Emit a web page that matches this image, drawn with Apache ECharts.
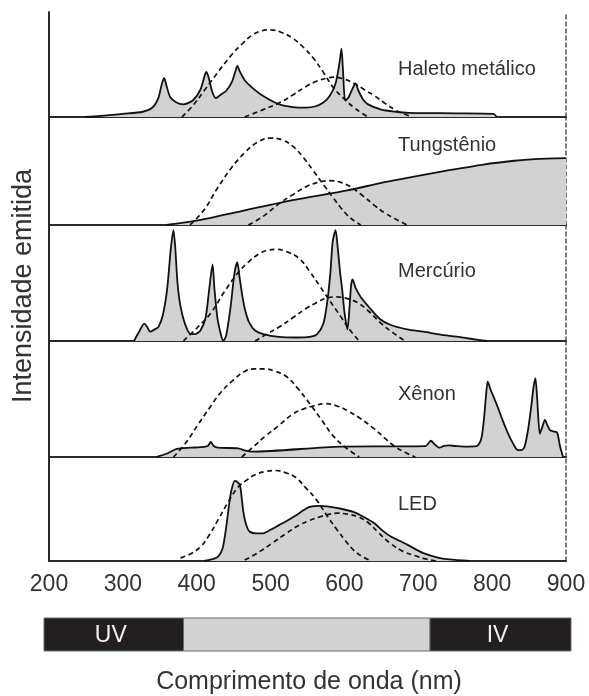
<!DOCTYPE html>
<html><head><meta charset="utf-8">
<script src="https://cdn.jsdelivr.net/npm/echarts@6/dist/echarts.min.js"></script>
<style>html,body{margin:0;padding:0;background:#fff}#c{width:589px;height:696px}</style>
</head><body><div id="c"></div>
<script>
// ---- data (wavelength nm, relative intensity %) ----
const xMin = 200, xMax = 900, xStep = 100;
const panelNames = ['Haleto metálico', 'Tungstênio', 'Mercúrio', 'Xênon', 'LED'];

const haletoSpectrum = [[248,0],[270,1],[300,3],[327,5],[340,9],[348,18],[353,32],[356,37],[359,30],[364,19],[372,14],[382,12],[395,16],[405,26],[411,40],[413,43],[416,38],[421,24],[426,18],[432,21],[440,25],[448,34],[453,45],[455,49],[458,44],[465,35],[475,28],[490,20],[512,12],[530,9.5],[548,9],[560,10],[571,13.5],[580,20],[588,32],[593,50],[596,65],[598,45],[601,16],[605,18],[611,27],[615,32],[619,25],[625,17],[632,12],[650,7],[670,5],[687,4],[750,3.5],[802,3],[806,0]];
const haletoDashA = [[380,0],[395,11],[410,25],[428,42],[447,59],[462,70],[475,78],[488,82],[500,83],[515,80.5],[530,75],[545,66],[558,56],[572,42],[585,28],[600,17],[613,9],[623,4],[632,0]];
const haletoDashB = [[465,0],[490,7],[512,13.5],[530,21],[548,29],[562,34],[576,37],[585,38],[600,36],[613,32],[627,26],[641,20],[655,13],[668,7],[680,3],[692,0]];

const tungstenioSpectrum = [[359,0],[400,4],[465,13.5],[530,23],[604,32],[650,39],[696,45],[740,50.5],[788,56],[830,59.5],[858,61],[900,62]];
const tungstenioDashA = [[391,0],[410,14],[428,34],[446,52],[465,67],[483,77],[500,80.5],[515,79],[530,73],[545,62],[558,50],[572,37],[585,25],[595,16],[604,9],[613,4],[622,0]];
const tungstenioDashB = [[470,0],[490,8],[512,20],[530,28],[548,35.5],[565,39.5],[581,41],[595,39.5],[608,35.5],[625,27],[641,18],[655,11],[668,6],[685,0]];

const mercurioSpectrum = [[315,0],[322,8],[329,15],[333,12],[337,8],[343,10],[348,12],[354,22],[360,45],[365,80],[368.5,95.6],[371,80],[374,50],[378,30],[384,15],[391.6,6],[398,6],[405,9],[412,20],[417,45],[421.5,66],[424,45],[428,20],[433,5],[436,0],[440,5],[446,30],[451,58],[455,68],[458,55],[462,38],[465.4,27],[471,16],[479,9],[490,6],[511.5,3.5],[535,3],[553,3.5],[563,6],[571.5,15],[577,35],[581,59],[584,85],[588,95.6],[591,80],[594,60],[597,44],[600,25],[604,10],[607,30],[609,48],[611,53],[615,46],[622,38],[635,28],[648,19],[662,14],[685,10],[707,8],[730,5.5],[752,3.7],[775,1.5],[793,0]];
const mercurioDashA = [[382,0],[400,11],[419,24],[437,42],[456,59],[470,68],[484,75],[495,78],[507,79],[522,77],[539,71],[553,60],[567,47],[581,34],[595,21],[608,9],[620,0]];
const mercurioDashB = [[479,0],[495,6],[511.5,12],[530,20],[548,28],[562,33],[576,37],[590,38],[604,36.5],[618,33],[634,25],[650,15],[666,7],[682,0]];

const xenonSpectrum = [[345,0],[360,3],[373,7],[391.6,8],[405,8.5],[415,9.5],[419,13],[423,9.5],[428.5,8],[456,7.5],[466,5.5],[476,4.6],[594.6,9],[660,9.2],[710,9.4],[714,12],[717,14],[722,11],[728.5,8],[735,9.5],[742,10],[750,9.5],[761,9],[779,9.4],[785,15],[788.5,30],[792,55],[794,65],[798,58],[807,44],[814,32],[821,21],[828,12],[834.6,6],[840,6],[844,9],[849,25],[853,44],[856,60],[858.6,68],[861,50],[864.6,20],[868,26],[871.5,32],[875,27],[878.5,23],[883,22],[888,21],[892,9],[896,0]];
const xenonDashA = [[368.5,0],[385,12],[400.8,27],[417,42],[433,56],[449,66],[465.4,74],[478,76],[491,76],[506,74],[521,69.6],[537,59],[553,46],[569,32],[585,18],[602,8],[620,0]];
const xenonDashB = [[461,0],[477,9],[493,18],[511,27],[530,37],[545,41.5],[558,44],[574,46],[590,44],[604,40],[622,33],[641,24],[655,16],[668.5,9],[682,4],[696,0]];

const ledSpectrum = [[410,0],[420,1.5],[428.5,4],[435,12],[440,33],[444,55],[447,68],[451.5,77],[455,76],[458.5,73],[461,60],[463,48],[465.4,39],[469,31],[472,28],[480,26.5],[488.5,26.5],[500,30],[511.5,34.5],[523,39],[534.6,44],[545,49],[553,52],[565,53],[581,52],[597,50],[613,47],[627,42],[641,36],[652,29],[664,23],[676,19],[687,15],[707,7.5],[725,3.5],[742,1.5],[770,0]];
const ledDashA = [[378,3],[392,7],[405,13.5],[417,25],[428.5,39],[442,56],[456,71],[468,78],[479,83],[493,86],[507,87],[520,85],[534.6,80],[548,70],[562,59],[576,44],[590,30],[602,19],[613,10],[625,4],[636,0]];
const ledDashB = [[465,1],[483,8],[502,17],[520,26],[539,34.5],[553,39],[567,42.5],[580,45],[590,46],[604,45],[618,42.5],[632,37],[645,28],[662,17],[680,9],[696,5],[710,2],[724,0]];

const bandStart = [193, 382, 716];
const bandEnd = [382, 716, 907];
const bandLabel = ['UV', '', 'IV'];

const xTitle = 'Comprimento de onda (nm)';
const yTitle = 'Intensidade emitida';

// ---- layout ----
const spectra = [haletoSpectrum, tungstenioSpectrum, mercurioSpectrum, xenonSpectrum, ledSpectrum];
const dashA = [haletoDashA, tungstenioDashA, mercurioDashA, xenonDashA, ledDashA];
const dashB = [haletoDashB, tungstenioDashB, mercurioDashB, xenonDashB, ledDashB];
const tops = [12, 117, 225, 341, 457];
const heights = [105, 108, 116, 116, 104];
const labelY = [70, 146, 272, 395, 505];
const L = 49, R = 23;
const FONT = '"Liberation Sans", Arial, sans-serif';
const ink = '#2a2a2a';

const grid = [], xAxis = [], yAxis = [], series = [], graphic = [];
for (let i = 0; i < 5; i++) {
  grid.push({left: L, right: R, top: tops[i], height: heights[i]});
  xAxis.push({type: 'value', gridIndex: i, min: xMin, max: xMax, interval: xStep,
    axisLine: {show: true, lineStyle: {color: ink, width: 2}}, axisTick: {show: false}, splitLine: {show: false},
    axisLabel: {show: i === 4, margin: 12, color: '#333', fontSize: 23, fontFamily: FONT}});
  yAxis.push({type: 'value', gridIndex: i, min: 0, max: 100, position: 'left',
    axisLine: {show: true, lineStyle: {color: ink, width: 2}}, axisTick: {show: false}, axisLabel: {show: false}, splitLine: {show: false}});
  yAxis.push({type: 'value', gridIndex: i, min: 0, max: 100, position: 'right',
    axisLine: {show: true, lineStyle: {color: '#555', width: 1.5, type: [4, 3]}}, axisTick: {show: false}, axisLabel: {show: false}, splitLine: {show: false}});
  const yi = i * 2;
  series.push({type: 'line', xAxisIndex: i, yAxisIndex: yi, data: spectra[i], symbol: 'none', smooth: 0.25,
    lineStyle: {color: '#111', width: 1.8}, areaStyle: {color: '#d2d2d2', opacity: 1}, z: 2});
  series.push({type: 'line', xAxisIndex: i, yAxisIndex: yi, data: dashA[i], symbol: 'none', smooth: 0.4,
    lineStyle: {color: '#111', width: 1.7, type: [5, 3.5]}, z: 3});
  series.push({type: 'line', xAxisIndex: i, yAxisIndex: yi, data: dashB[i], symbol: 'none', smooth: 0.4,
    lineStyle: {color: '#111', width: 1.7, type: [5, 3.5]}, z: 3});
  graphic.push({type: 'text', left: 398, top: labelY[i] - 11, z: 10,
    style: {text: panelNames[i], fill: '#333', font: '20px ' + FONT}});
}
// top border of first panel
xAxis.push({type: 'value', gridIndex: 0, position: 'top', min: xMin, max: xMax,
  axisLine: {show: true, lineStyle: {color: ink, width: 2}}, axisTick: {show: false}, axisLabel: {show: false}, splitLine: {show: false}});

// spectral band bar
grid.push({left: 44, right: 18, top: 618, height: 33});
xAxis.push({type: 'value', gridIndex: 5, min: bandStart[0], max: bandEnd[bandEnd.length - 1], show: false});
yAxis.push({type: 'value', gridIndex: 5, min: 0, max: 1, show: false});
const bandIdxX = xAxis.length - 1, bandIdxY = yAxis.length - 1;
series.push({type: 'custom', xAxisIndex: bandIdxX, yAxisIndex: bandIdxY,
  data: bandStart.map((s, k) => [s, bandEnd[k], k]),
  renderItem: function (params, api) {
    const p0 = api.coord([api.value(0), 1]);
    const p1 = api.coord([api.value(1), 0]);
    const k = api.value(2);
    const dark = bandLabel[k] !== '';
    return {type: 'group', children: [
      {type: 'rect', shape: {x: p0[0], y: p0[1], width: p1[0] - p0[0], height: p1[1] - p0[1]},
        style: {fill: dark ? '#231f20' : '#d3d3d3', stroke: '#6a6a6a', lineWidth: 1}},
      {type: 'text', style: {text: bandLabel[k], x: (p0[0] + p1[0]) / 2 - 3, y: (p0[1] + p1[1]) / 2 + 1,
        align: 'center', verticalAlign: 'middle', fill: '#f2f2f2', font: '23px ' + FONT}}
    ]};
  }});

graphic.push({type: 'text', x: 309, y: 682, style: {text: xTitle, fill: '#333', font: '25px ' + FONT, align: 'center', verticalAlign: 'middle'}});
graphic.push({type: 'text', x: 24, y: 286, rotation: Math.PI / 2,
  style: {text: yTitle, fill: '#333', font: '27px ' + FONT, align: 'center', verticalAlign: 'middle'}});

const chart = echarts.init(document.getElementById('c'), null, {renderer: 'canvas'});
chart.setOption({animation: false, backgroundColor: '#fff', grid, xAxis, yAxis, series, graphic});
</script></body></html>
